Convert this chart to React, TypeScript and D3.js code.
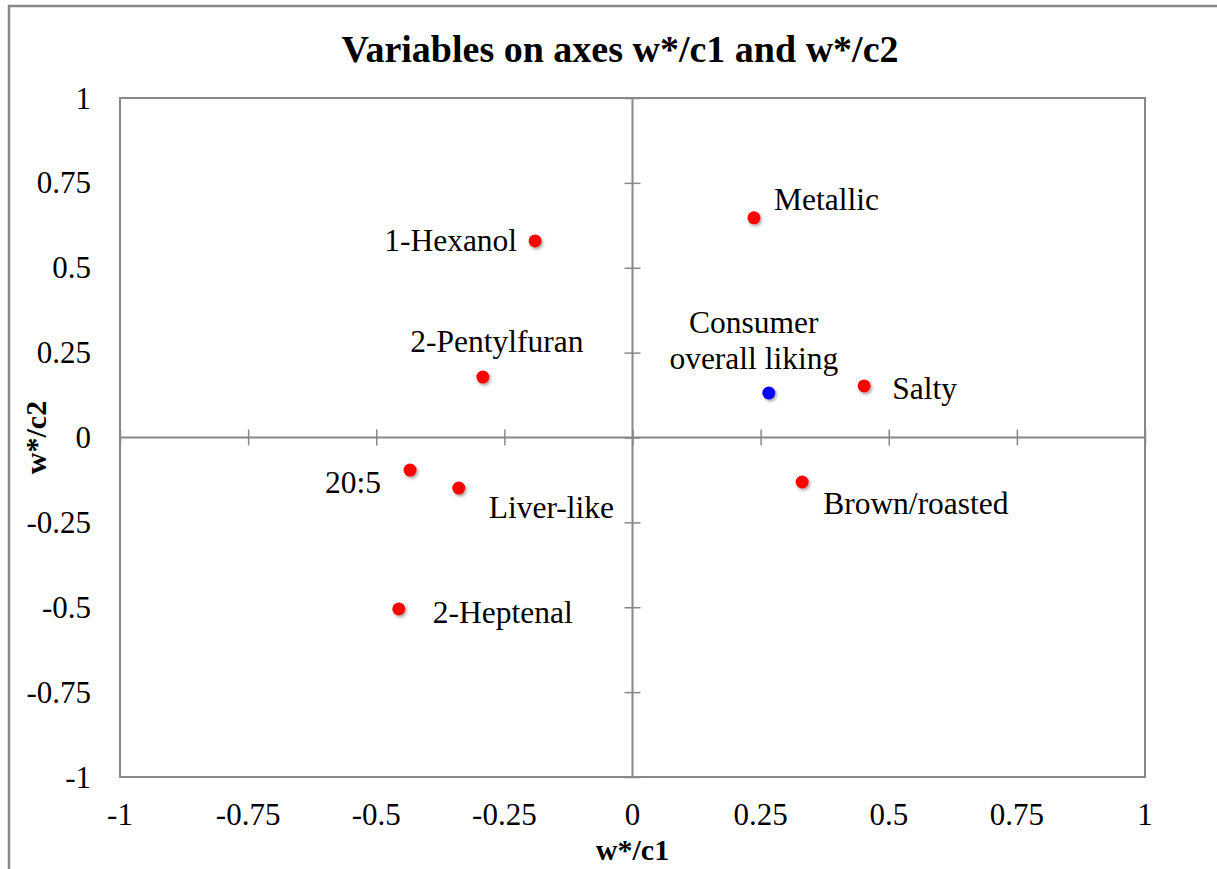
import * as d3 from "d3";
import { useRef, useEffect } from "react";

// variables and their coordinates on w*/c1, w*/c2
const names = [
  "Metallic",
  "1-Hexanol",
  "2-Pentylfuran",
  "Consumer overall liking",
  "Salty",
  "20:5",
  "Liver-like",
  "Brown/roasted",
  "2-Heptenal"
];
const c1 = [0.237, -0.19, -0.292, 0.266, 0.452, -0.434, -0.339, 0.331, -0.456];
const c2 = [0.647, 0.579, 0.178, 0.131, 0.152, -0.096, -0.149, -0.131, -0.505];
const isConsumer = [false, false, false, true, false, false, false, false, false];
const tickValues = [-1, -0.75, -0.5, -0.25, 0, 0.25, 0.5, 0.75, 1];

// label placement relative to the point (pixels)
const labelPlace = [
  { dx: 20, dy: -18, anchor: "start" },
  { dx: -18, dy: 0, anchor: "end" },
  { dx: 14, dy: -36, anchor: "middle" },
  { dx: -15, dy: -71, anchor: "middle" },
  { dx: 28, dy: 3, anchor: "start" },
  { dx: -29, dy: 12, anchor: "end" },
  { dx: 30, dy: 19, anchor: "start" },
  { dx: 21, dy: 22, anchor: "start" },
  { dx: 34, dy: 4, anchor: "start" }
];

export default function App({
  width = 1217,
  height = 869,
  left = 120,
  right = 1145,
  top = 98,
  bottom = 777
}) {
  const gx = useRef(null);
  const gy = useRef(null);

  const x = d3.scaleLinear().domain([-1, 1]).range([left, right]);
  const y = d3.scaleLinear().domain([-1, 1]).range([bottom, top]);
  const fmt = (d) => String(d);
  const font = "'Liberation Serif', 'Times New Roman', serif";
  const axisColor = "#888888";

  useEffect(() => {
    const ax = d3.select(gx.current);
    ax.call(d3.axisBottom(x).tickValues(tickValues).tickSize(8).tickFormat(fmt as any));
    ax.select(".domain").remove();
    ax.selectAll(".tick line").attr("y1", -8).attr("y2", 8).attr("stroke", axisColor).attr("stroke-width", 1.5);
    ax.selectAll(".tick text").remove();

    const ay = d3.select(gy.current);
    ay.call(d3.axisLeft(y).tickValues(tickValues).tickSize(8).tickFormat(fmt as any));
    ay.select(".domain").remove();
    ay.selectAll(".tick line").attr("x1", -8).attr("x2", 8).attr("stroke", axisColor).attr("stroke-width", 1.5);
    ay.selectAll(".tick text").remove();
  }, [gx, gy]);

  return (
    <svg
      width={width}
      height={height}
      style={{ position: "absolute", left: 0, top: 0, background: "white" }}
    >
      <defs>
        <filter id="shadow" x="-50%" y="-50%" width="200%" height="200%">
          <feDropShadow dx="1.5" dy="2" stdDeviation="1.5" floodColor="#000" floodOpacity="0.35" />
        </filter>
      </defs>
      {/* outer frame */}
      <path d={`M9,${height} V6 H${width}`} fill="none" stroke={axisColor} strokeWidth={2.5} />
      {/* title */}
      <text x={620} y={62} textAnchor="middle" fontFamily={font} fontWeight="bold" fontSize={38}>
        Variables on axes w*/c1 and w*/c2
      </text>
      {/* plot area border */}
      <rect x={left} y={top} width={right - left} height={bottom - top} fill="none" stroke={axisColor} strokeWidth={2} />
      {/* central axes */}
      <line x1={left} x2={right} y1={y(0)} y2={y(0)} stroke={axisColor} strokeWidth={2} />
      <line x1={x(0)} x2={x(0)} y1={top} y2={bottom} stroke={axisColor} strokeWidth={2} />
      <g ref={gx} transform={`translate(0,${y(0)})`} />
      <g ref={gy} transform={`translate(${x(0)},0)`} />
      {/* tick labels */}
      <g fontFamily={font} fontSize={31} fill="#000">
        {tickValues.map((t) => (
          <text key={"x" + t} x={x(t)} y={825} textAnchor="middle">{fmt(t)}</text>
        ))}
        {tickValues.map((t) => (
          <text key={"y" + t} x={91} y={y(t) + 10.5} textAnchor="end">{fmt(t)}</text>
        ))}
      </g>
      {/* axis titles */}
      <text x={x(0)} y={860} textAnchor="middle" fontFamily={font} fontWeight="bold" fontSize={30}>w*/c1</text>
      <text
        transform={`translate(46,${y(0)}) rotate(-90)`}
        textAnchor="middle"
        fontFamily={font}
        fontWeight="bold"
        fontSize={30}
      >
        w*/c2
      </text>
      {/* points */}
      <g filter="url(#shadow)">
        {names.map((n, i) => (
          <circle key={n} cx={x(c1[i])} cy={y(c2[i])} r={6.5} fill={isConsumer[i] ? "#0000ff" : "#ff0000"} />
        ))}
      </g>
      {/* labels */}
      <g fontFamily={font} fontSize={31.5} fill="#000">
        {names.map((n, i) => {
          const p = labelPlace[i];
          const lx = x(c1[i]) + p.dx;
          const ly = y(c2[i]) + p.dy;
          if (n === "Consumer overall liking") {
            return (
              <text key={n} x={lx} y={ly} textAnchor={p.anchor as any} dominantBaseline="central">
                <tspan x={lx} dy="0">Consumer</tspan>
                <tspan x={lx} dy="36">overall liking</tspan>
              </text>
            );
          }
          return (
            <text key={n} x={lx} y={ly} textAnchor={p.anchor as any} dominantBaseline="central">
              {n}
            </text>
          );
        })}
      </g>
    </svg>
  );
}
